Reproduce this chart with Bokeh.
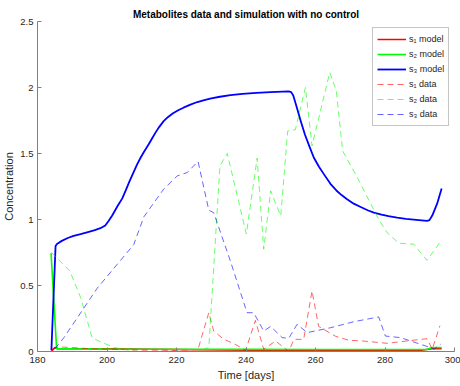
from bokeh.plotting import figure
from bokeh.models import Range1d, FixedTicker, Legend, LegendItem
from bokeh.embed import file_html
from bokeh.resources import INLINE

# ---- data ----
t_s1_model = [184.0, 185.0, 186.0, 200.0, 220.0, 240.0, 252.0, 270.0, 290.0, 293.5, 296.3]
s1_model = [0.0, 0.03, 0.02, 0.02, 0.015, 0.01, 0.008, 0.008, 0.008, 0.02, 0.02]

t_s2_model = [183.9, 185.5, 190.0, 200.0, 220.0, 240.0, 260.0, 280.0, 292.0, 293.5, 296.3]
s2_model = [0.745, 0.02, 0.02, 0.018, 0.017, 0.016, 0.015, 0.015, 0.015, 0.03, 0.03]

t_s3_model = [184.0, 185.2, 185.6, 187.0, 188.7, 190.4, 192.4, 194.5, 196.5, 198.1,
              199.5, 200.5, 201.5, 203.0, 204.4, 205.3, 206.5, 207.7, 208.7, 209.7,
              210.7, 212.0, 213.0, 214.0, 215.0, 216.3, 217.5, 219.0, 220.5, 222.0,
              224.0, 226.0, 228.0, 230.0, 232.5, 235.5, 239.0, 243.0, 247.0, 252.3,
              253.0, 253.6, 254.5, 255.7, 257.0, 258.3, 259.5, 261.0, 262.5, 264.3,
              266.0, 267.5, 269.1, 271.0, 273.0, 275.0, 276.8, 279.0, 281.0, 283.5,
              286.0, 289.0, 292.1, 292.8, 293.6, 295.0, 296.3]
s3_model = [0.01, 0.80, 0.815, 0.838, 0.86, 0.876, 0.889, 0.905, 0.92, 0.934,
            0.955, 0.99, 1.03, 1.10, 1.16, 1.215, 1.29, 1.36, 1.42, 1.47,
            1.515, 1.57, 1.615, 1.66, 1.70, 1.745, 1.775, 1.805, 1.828, 1.847,
            1.87, 1.89, 1.905, 1.918, 1.93, 1.942, 1.952, 1.96, 1.965, 1.97,
            1.965, 1.94, 1.86, 1.75, 1.64, 1.55, 1.47, 1.40, 1.34, 1.27,
            1.22, 1.185, 1.154, 1.12, 1.095, 1.07, 1.052, 1.037, 1.025, 1.014,
            1.005, 0.997, 0.99, 0.995, 1.03, 1.12, 1.234]

t_s1_data = [184.2, 186.0, 190.0, 196.0, 204.0, 210.0, 216.0, 222.0, 226.0, 229.3, 230.7,
             233.6, 236.5, 239.9, 242.7, 245.1, 248.5, 252.3, 253.8, 256.6, 259.0, 260.9,
             265.8, 269.6, 273.5, 280.6, 286.4, 292.1, 293.6, 295.8]
s1_data = [0.02, 0.035, 0.03, 0.02, 0.015, 0.01, 0.01, 0.005, 0.0, 0.294, 0.155,
           0.092, 0.06, 0.01, 0.235, 0.017, 0.08, 0.0, 0.092, 0.092, 0.459, 0.19,
           0.115, 0.085, 0.08, 0.062, 0.08, 0.097, 0.017, 0.195]

t_s2_data = [184.0, 189.3, 192.4, 195.7, 197.6, 202.0, 208.7, 214.0, 220.0, 226.0, 229.3,
             232.5, 234.6, 240.1, 243.2, 245.1, 247.1, 250.0, 252.0, 254.2, 257.1, 259.0,
             264.1, 266.0, 267.8, 272.0, 278.2, 280.6, 284.0, 288.3, 292.1, 296.3]
s2_data = [0.75, 0.61, 0.41, 0.105, 0.08, 0.03, 0.0, 0.0, 0.0, 0.0, 0.03,
           1.406, 1.50, 0.89, 1.465, 0.775, 1.217, 1.027, 1.67, 1.68, 2.0, 1.558,
           2.114, 1.975, 1.52, 1.32, 1.0, 0.90, 0.82, 0.813, 0.69, 0.845]

t_s3_data = [185.0, 187.6, 197.2, 207.7, 210.6, 216.3, 220.2, 223.1, 226.2, 229.3, 230.7,
             235.5, 240.3, 242.2, 245.1, 247.1, 250.4, 252.3, 254.7, 257.6, 264.3, 271.1,
             278.2, 280.1, 284.5, 293.6, 294.1, 296.0]
s3_data = [0.02, 0.105, 0.48, 0.81, 1.02, 1.23, 1.33, 1.356, 1.44, 1.07, 1.052,
           0.686, 0.294, 0.294, 0.155, 0.19, 0.105, 0.10, 0.206, 0.143, 0.18, 0.226,
           0.262, 0.117, 0.105, 0.025, 0.017, 0.055]

x_ticks = [180, 200, 220, 240, 260, 280, 300]
y_ticks = [0, 0.5, 1, 1.5, 2, 2.5]
y_tick_labels = ["0", "0.5", "1", "1.5", "2", "2.5"]

labels = ["s\u2081 model", "s\u2082 model", "s\u2083 model",
          "s\u2081 data", "s\u2082 data", "s\u2083 data"]

FONT = "Liberation Sans"
AX = "#262626"

p = figure(width=460, height=386, output_backend="svg", toolbar_location=None,
           x_range=Range1d(180, 300), y_range=Range1d(0, 2.5),
           title="Metabolites data and simulation with no control",
           min_border_left=37, min_border_right=6, min_border_top=21, min_border_bottom=35)

p.title.align = "center"
p.title.text_font = FONT
p.title.text_font_size = "10px"
p.title.text_font_style = "bold"
p.title.text_color = "#000000"
p.title.standoff = 3

p.background_fill_color = "white"
p.border_fill_color = "white"
p.outline_line_color = None
p.xgrid.visible = False
p.ygrid.visible = False

for ax in (p.xaxis[0], p.yaxis[0]):
    ax.axis_line_color = "#808080"
    ax.major_tick_line_color = "#808080"
    ax.major_tick_in = 4
    ax.major_tick_out = 0
    ax.minor_tick_line_color = None
    ax.major_label_text_font = FONT
    ax.major_label_text_font_size = "9.5px"
    ax.major_label_text_color = AX
    ax.axis_label_text_font = FONT
    ax.axis_label_text_font_size = "11px"
    ax.axis_label_text_font_style = "normal"
    ax.axis_label_text_color = AX

p.xaxis.ticker = FixedTicker(ticks=x_ticks)
p.yaxis.ticker = FixedTicker(ticks=y_ticks)
p.yaxis.major_label_overrides = {v: s for v, s in zip(y_ticks, y_tick_labels)}
p.xaxis.axis_label = "Time [days]"
p.yaxis.axis_label = "Concentration"
p.xaxis.major_label_standoff = 5
p.yaxis.major_label_standoff = 4
p.xaxis.axis_label_standoff = 3
p.yaxis.axis_label_standoff = 2

r1 = p.line(t_s1_model, s1_model, line_color="#ff0000", line_width=1.5)
r2 = p.line(t_s2_model, s2_model, line_color="#00ff00", line_width=1.6)
r3 = p.line(t_s3_model, s3_model, line_color="#0000ff", line_width=1.8, line_join="round")
d1 = p.line(t_s1_data, s1_data, line_color="#ff0000", line_width=1, line_alpha=0.6, line_dash="6 4")
d2 = p.line(t_s2_data, s2_data, line_color="#00ff00", line_width=1, line_alpha=0.6, line_dash="6 4")
d3 = p.line(t_s3_data, s3_data, line_color="#0000ff", line_width=1, line_alpha=0.6, line_dash="6 4")

legend = Legend(items=[LegendItem(label=l, renderers=[r]) for l, r in
                       zip(labels, [r1, r2, r3, d1, d2, d3])],
                location=(335, 225))
legend.label_text_font = FONT
legend.label_text_font_size = "9px"
legend.label_text_color = AX
legend.glyph_width = 29
legend.glyph_height = 14
legend.label_height = 14
legend.spacing = 1
legend.padding = 4
legend.margin = 0
legend.label_standoff = 3
legend.border_line_color = "#8c8c8c"
legend.border_line_width = 1
legend.background_fill_color = "white"
legend.background_fill_alpha = 1
p.add_layout(legend, "center")

open("out.html", "w").write(file_html(p, INLINE))
